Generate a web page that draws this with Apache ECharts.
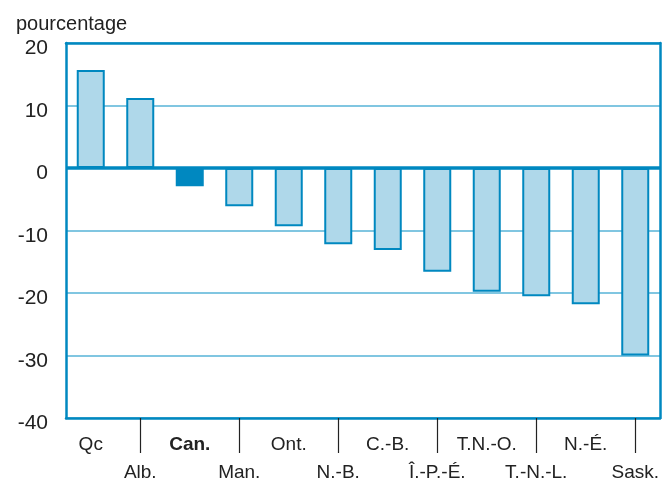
<!DOCTYPE html>
<html>
<head>
<meta charset="utf-8">
<script src="https://cdn.jsdelivr.net/npm/echarts@6/dist/echarts.min.js"></script>
<style>
  html, body { margin: 0; padding: 0; background: #fff; }
  #chart { width: 664px; height: 483px; }
</style>
</head>
<body>
<div id="chart"></div>
<script>
// Provinces / territories, in the order shown
const PROVINCES = ['Qc', 'Alb.', 'Can.', 'Man.', 'Ont.', 'N.-B.', 'C.-B.',
    'Î.-P.-É.', 'T.N.-O.', 'T.-N.-L.', 'N.-É.', 'Sask.'];
// Change in percent
const CHANGE = [15.7, 11.2, -2.9, -6.1, -9.3, -12.2, -13.1, -16.6, -19.8, -20.5, -21.8, -30.0];
// Y axis range
const Y_MIN = -40;
const Y_MAX = 20;
const Y_STEP = 10;

const BLUE = '#0088c0';
const LIGHT = '#afd8ea';
const GRID = '#80c6e1';
const FONT = "'Liberation Sans', Arial, sans-serif";

const chart = echarts.init(document.getElementById('chart'), null, { renderer: 'canvas' });

// the frame round the plot is drawn with the four axis lines
const frameLine = { show: true, onZero: false, lineStyle: { color: BLUE, width: 2.5 } };

const option = {
    animation: false,
    backgroundColor: '#fff',
    title: {
        text: 'pourcentage',
        left: 11,
        top: 9,
        textStyle: { fontFamily: FONT, fontWeight: 'normal', fontSize: 20, color: '#222' }
    },
    grid: { left: 66, right: 4, top: 43, bottom: 65, outerBoundsMode: 'none' },
    xAxis: [{
        type: 'category',
        data: PROVINCES,
        position: 'bottom',
        axisLine: frameLine,
        axisTick: {
            show: true,
            alignWithLabel: true,
            interval: (i) => i % 2 === 1,
            length: 35,
            lineStyle: { color: '#222', width: 1.2 }
        },
        axisLabel: {
            interval: 0,
            margin: 13,
            fontFamily: FONT,
            fontSize: 19,
            color: '#222',
            lineHeight: 28,
            formatter: (v, i) => {
                if (v === 'Can.') return '{b|' + v + '}';
                return i % 2 === 1 ? '\n' + v : v;
            },
            rich: {
                b: { fontFamily: FONT, fontSize: 19, fontWeight: 'bold', color: '#222', lineHeight: 28 }
            }
        },
        splitLine: { show: false }
    }, {
        type: 'category',
        data: PROVINCES,
        position: 'top',
        axisLine: frameLine,
        axisTick: { show: false },
        axisLabel: { show: false },
        splitLine: { show: false }
    }],
    yAxis: [{
        type: 'value',
        min: Y_MIN,
        max: Y_MAX,
        interval: Y_STEP,
        position: 'left',
        axisLine: frameLine,
        axisTick: { show: false },
        axisLabel: {
            fontFamily: FONT, fontSize: 21, color: '#222', margin: 18,
            verticalAlign: 'top', lineHeight: 11
        },
        splitLine: {
            show: true,
            lineStyle: { color: GRID, width: 2 }
        }
    }, {
        type: 'value',
        min: Y_MIN,
        max: Y_MAX,
        interval: Y_STEP,
        position: 'right',
        axisLine: frameLine,
        axisTick: { show: false },
        axisLabel: { show: false },
        splitLine: { show: false }
    }],
    series: [{
        type: 'bar',
        xAxisIndex: 0,
        yAxisIndex: 0,
        data: CHANGE.map((v, i) => ({
            value: v,
            itemStyle: PROVINCES[i] === 'Can.'
                ? { color: BLUE, borderColor: BLUE, borderWidth: 2 }
                : { color: LIGHT, borderColor: BLUE, borderWidth: 2 }
        })),
        barWidth: 28,
        markLine: {
            silent: true,
            symbol: 'none',
            label: { show: false },
            lineStyle: { color: BLUE, width: 3.5, type: 'solid' },
            data: [{ yAxis: 0 }]
        }
    }]
};

chart.setOption(option);
</script>
</body>
</html>
